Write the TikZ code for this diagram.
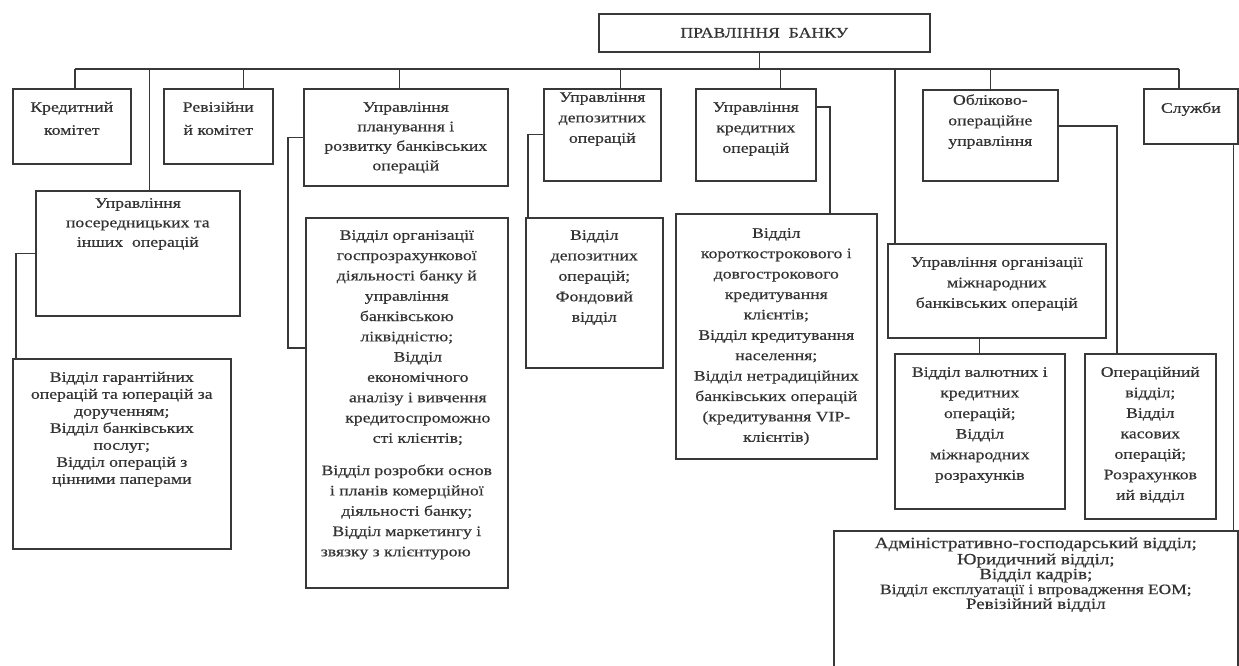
\documentclass[tikz,border=0pt]{standalone}
\usepackage{fontspec}
\setmainfont{Liberation Serif}[FakeStretch=1.22, FakeBold=0.5]
% text hanging from the top of a fixed-size box
\newcommand{\celltext}[4]{\parbox[b][#2][t]{#1}{\centering\vspace*{#3}\strut #4\par}}

\begin{document}
\begin{tikzpicture}[x=1pt, y=-1pt,
  box/.style={draw=black!78, line width=1.6pt, inner sep=0pt, anchor=north west, text=black!80},
  link/.style={draw=black!78, line width=1.2pt},
  fs/.style={font=\fontsize{14.5}{#1}\selectfont}]
\useasboundingbox (0,0) rectangle (1239,666);

% top
\node[box, minimum width=331pt, minimum height=38pt, fs=16] (bank) at (598,13) {ПРАВЛІННЯ\ \ БАНКУ};
\coordinate (busL) at (75,69);
\coordinate (busR) at (1179,69);

% first row
\node[box, fs=23] (kred) at (12,88) {\celltext{118pt}{75pt}{6.9pt}{Кредитний\\комітет}};
\node[box, fs=23] (rev) at (163,88) {\celltext{109pt}{75pt}{6.9pt}{Ревізійни\\й комітет}};
\node[box, fs=19.5] (plan) at (303,88) {\celltext{204pt}{97pt}{9.3pt}{Управління\\планування і\\розвитку банківських\\операцій}};
\node[box, fs=20.5] (depupr) at (543,88) {\celltext{117pt}{92pt}{-1.3pt}{Управління\\депозитних\\операцій}};
\node[box, fs=20.5] (kredupr) at (695,88) {\celltext{120pt}{92pt}{8.6pt}{Управління\\кредитних\\операцій}};
\node[box, fs=20.5] (oblik) at (922,89) {\celltext{135pt}{91pt}{0.6pt}{Обліково-\\операційне\\управління}};
\node[box, fs=20] (sluzh) at (1143,88) {\celltext{94pt}{55pt}{10pt}{Служби}};

% lower boxes
\node[box, fs=19.5] (poser) at (35,190) {\celltext{204pt}{125pt}{3.3pt}{Управління\\посередницьких та\\інших\ \ операцій}};
\node[box, fs=17] (garant) at (12,358) {\celltext{218pt}{190pt}{11.1pt}{Відділ гарантійних\\операцій та юперацій за\\дорученням;\\Відділ банківських\\послуг;\\Відділ операцій з\\цінними паперами}};
\node[box, fs=20.3] (org) at (305,217) {\celltext{202pt}{370pt}{7.8pt}{Відділ організації\\госпрозрахункової\\діяльності банку й\\управління\\банківською\\ліквідністю;\\
  \hspace*{22pt}Відділ\\\hspace*{22pt}економічного\\\hspace*{22pt}аналізу і вивчення\\\hspace*{22pt}кредитоспроможно\\\hspace*{22pt}сті клієнтів;\\[12pt]
  Відділ розробки основ\\і планів комерційної\\діяльності банку;\\Відділ маркетингу і\hspace*{22pt}\\звязку з клієнтурою\hspace*{22pt}}};
\node[box, fs=20.5] (dep) at (525,217) {\celltext{137pt}{150pt}{7.6pt}{Відділ\\депозитних\\операцій;\\Фондовий\\відділ}};
\node[box, fs=20.4] (kr) at (675,213) {\celltext{201pt}{245pt}{9.7pt}{Відділ\\короткострокового і\\довгострокового\\кредитування\\клієнтів;\\Відділ кредитування\\населення;\\Відділ нетрадиційних\\банківських операцій\\(кредитування VIP-\\клієнтів)}};
\node[box, fs=20.5] (mizh) at (887,243) {\celltext{218pt}{94pt}{8.6pt}{Управління організації\\міжнародних\\банківських операцій}};
\node[box, fs=20.6] (val) at (894,353) {\celltext{170pt}{155pt}{8.6pt}{Відділ валютних і\\кредитних\\операцій;\\Відділ\\міжнародних\\розрахунків}};
\node[box, fs=20.5] (oper) at (1084,353) {\celltext{131pt}{165pt}{8.6pt}{Операційний\\відділ;\\Відділ\\касових\\операцій;\\Розрахунков\\ий відділ}};
\node[box, font=\fontsize{15.6}{14.9}\selectfont] (adm) at (833,530) {\celltext{404pt}{140pt}{6.6pt}{Адміністративно-господарський відділ;\\Юридичний відділ;\\Відділ кадрів;\\{\fontsize{14.3}{14.9}\selectfont Відділ експлуатації і впровадження ЕОМ;}\\Ревізійний відділ}};

% connectors
\draw[link] (busL) -- (busR);
\draw[link] ([xshift=-5pt]bank.south) -- ([xshift=-5pt]bank.south |- busL);
\draw[link] (busL) -- (busL |- kred.north);
\draw[link] ([xshift=25pt]rev.north) -- ([xshift=25pt]rev.north |- busL);
\draw[link] ([xshift=12pt]poser.north) -- ([xshift=12pt]poser.north |- busL);
\draw[link] ([xshift=-6pt]plan.north) -- ([xshift=-6pt]plan.north |- busL);
\draw[link] ([xshift=18pt]depupr.north) -- ([xshift=18pt]depupr.north |- busL);
\draw[link] ([xshift=25pt]kredupr.north) -- ([xshift=25pt]kredupr.north |- busL);
\draw[link] ([xshift=8pt]mizh.north west) -- ([xshift=8pt]mizh.north west |- busL);
\draw[link] (oblik.north) -- (oblik.north |- busL);
\draw[link] (busR) -- (busR |- sluzh.north);

\draw[link] (poser.west) -| ([xshift=4pt]garant.north west);
\draw[link] (plan.west) -- ++(-15,0) |- ([yshift=-131pt]org.north west);
\draw[link] (depupr.west) -| ([xshift=3pt]dep.north west);
\draw[link] ([yshift=-19pt]kredupr.north east) -| ([xshift=155pt]kr.north west);
\draw[link] ([yshift=-37pt]oblik.north east) -| ([xshift=33pt]oper.north west);
\draw[link] (val.north) -- (val.north |- mizh.south);
\draw[link] ([xshift=-5pt]sluzh.south east) -- ([xshift=-5pt]adm.north east);
\end{tikzpicture}
\end{document}
